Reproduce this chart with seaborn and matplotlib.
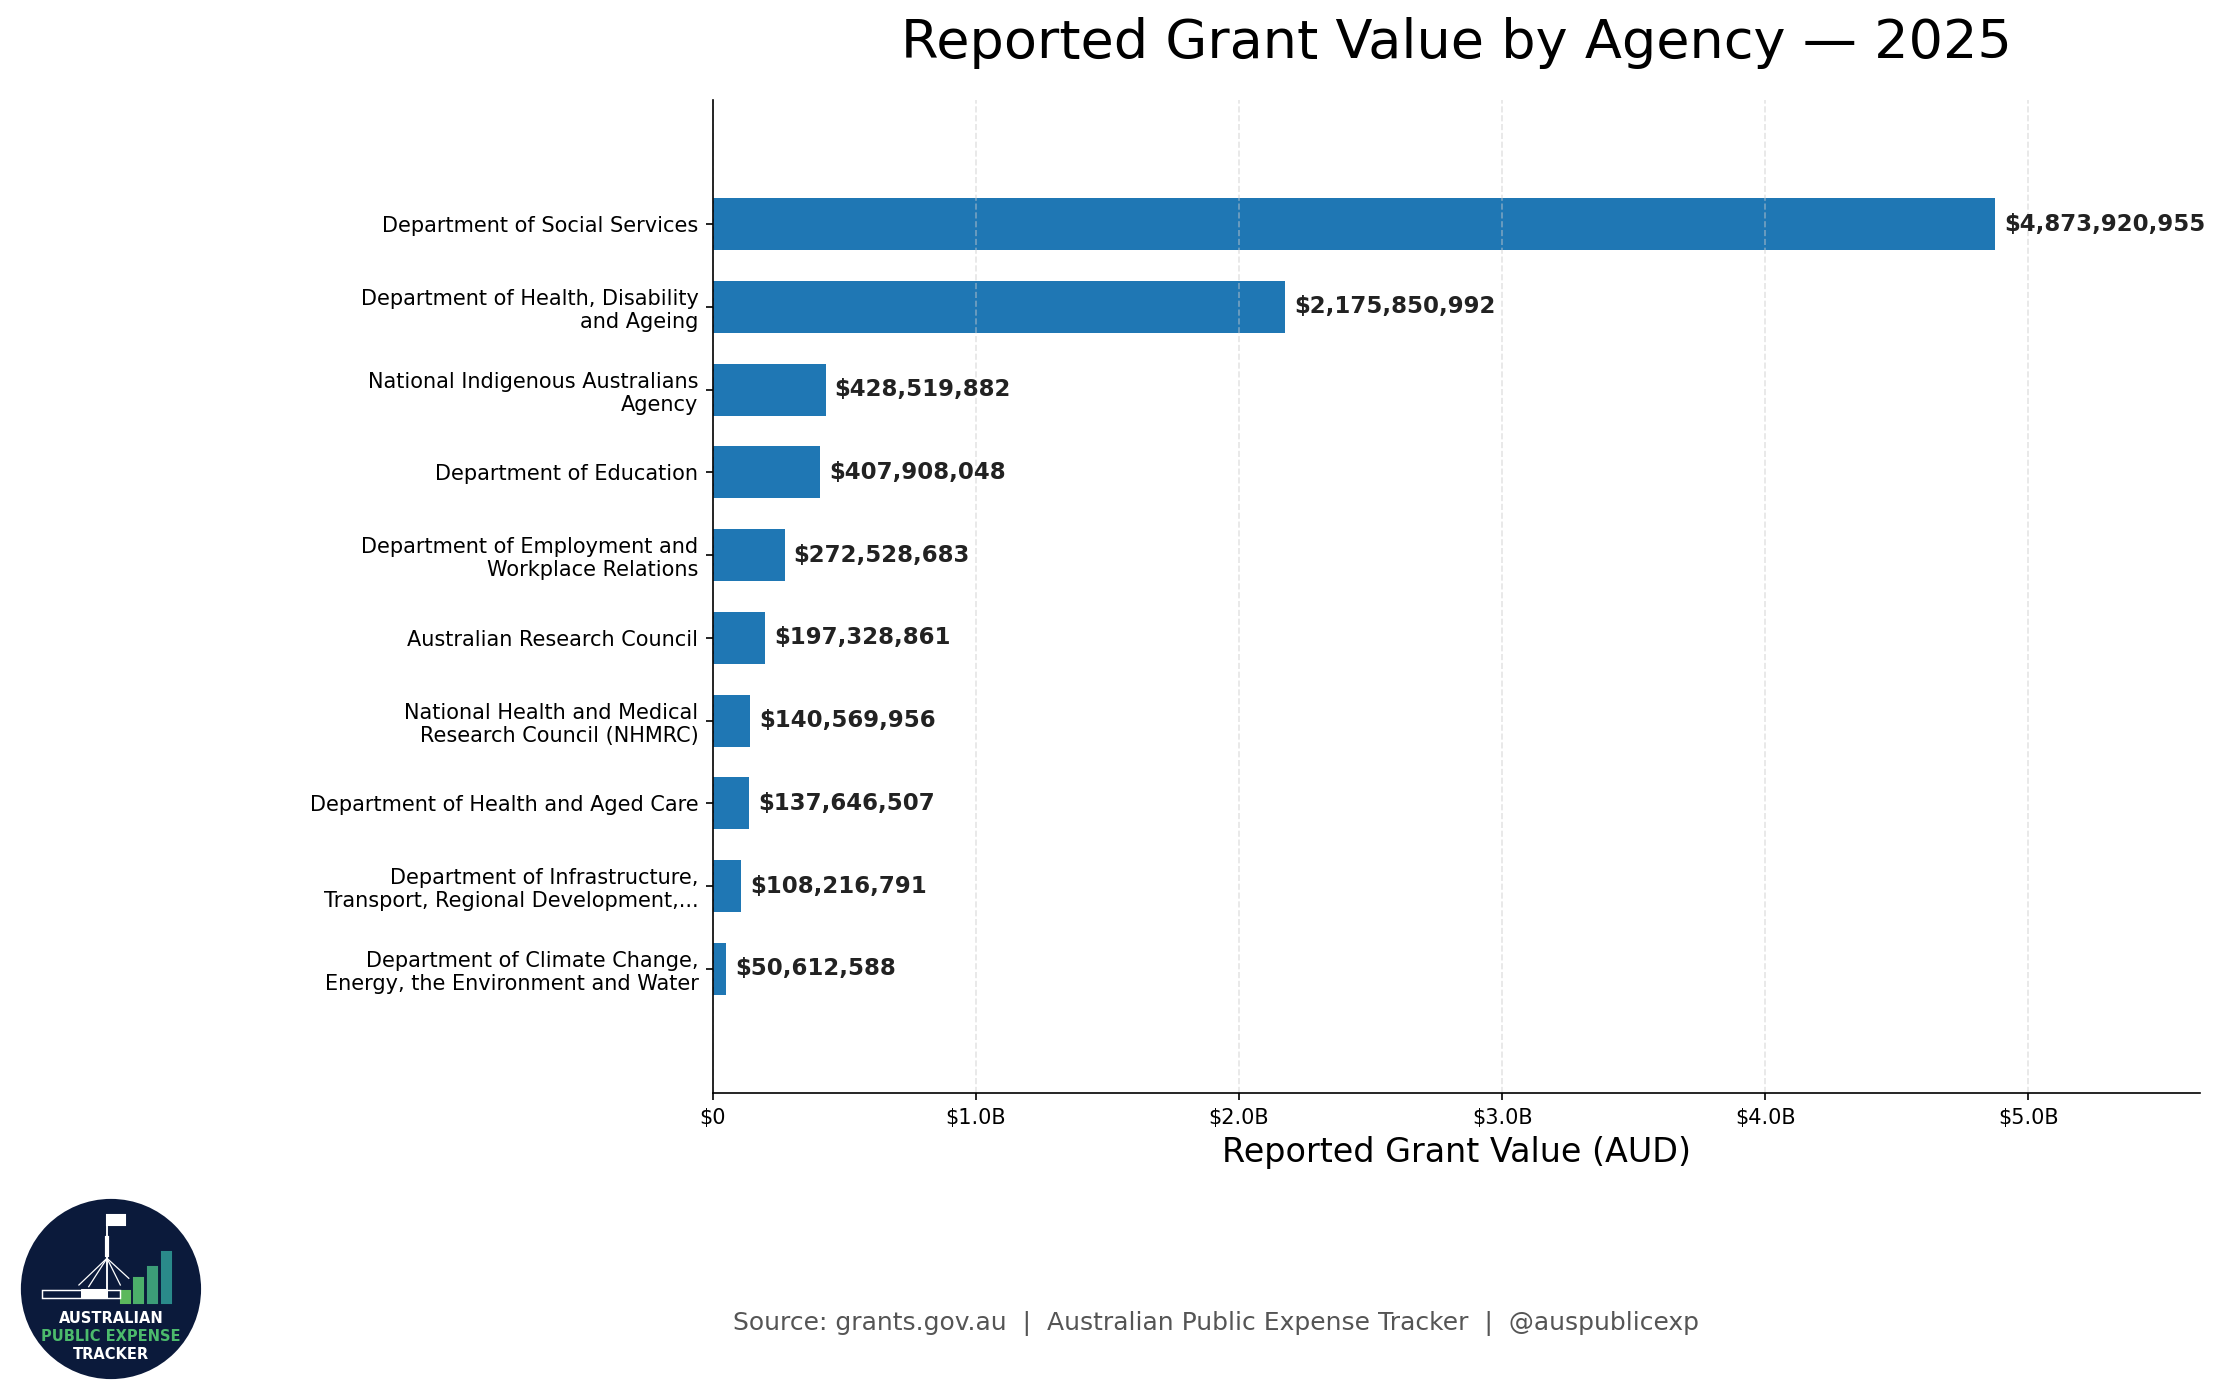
import matplotlib
matplotlib.use("Agg")
import matplotlib.pyplot as plt
import matplotlib.patches as mpatches
from matplotlib.ticker import FuncFormatter
import seaborn as sns

# data
agencies = [
    "Department of Social Services",
    "Department of Health, Disability\nand Ageing",
    "National Indigenous Australians\nAgency",
    "Department of Education",
    "Department of Employment and\nWorkplace Relations",
    "Australian Research Council",
    "National Health and Medical\nResearch Council (NHMRC)",
    "Department of Health and Aged Care",
    "Department of Infrastructure,\nTransport, Regional Development,...",
    "Department of Climate Change,\nEnergy, the Environment and Water",
]
grant_values = [
    4873920955,
    2175850992,
    428519882,
    407908048,
    272528683,
    197328861,
    140569956,
    137646507,
    108216791,
    50612588,
]
x_ticks = [0, 1e9, 2e9, 3e9, 4e9, 5e9]

BAR_COLOR = "#1f77b4"


def money_fmt(x, pos):
    if x == 0:
        return "$0"
    return f"${x / 1e9:.1f}B"


def draw_logo(fig):
    lax = fig.add_axes([0.00586, 0.00858, 0.0883, 0.1401])
    lax.set_xlim(-1.1, 1.1)
    lax.set_ylim(-1.1, 1.1)
    lax.set_aspect("equal")
    lax.axis("off")
    lax.add_patch(mpatches.Circle((0, 0), 1.0, color="#0b1a3b"))

    # rising bars
    bar_x = [0.116, 0.262, 0.412, 0.573]
    bar_top = [-0.02, 0.12, 0.25, 0.41]
    bar_c = ["#5cb85c", "#4caf6a", "#3c9c78", "#2a8a8a"]
    for bx, bt, bc in zip(bar_x, bar_top, bar_c):
        lax.add_patch(mpatches.Rectangle((bx, -0.154), 0.1, bt + 0.154, color=bc))

    # parliament house outline
    lax.add_patch(mpatches.Rectangle((-0.775, -0.105), 0.88, 0.09,
                                     facecolor="none", edgecolor="white", lw=0.7))
    lax.add_patch(mpatches.Rectangle((-0.34, -0.105), 0.30, 0.11,
                                     facecolor="white", edgecolor="white", lw=0.5))
    lax.plot([-0.045, -0.045], [-0.01, 0.83], color="white", lw=0.9)
    lax.plot([-0.045, -0.045], [0.38, 0.57], color="white", lw=2.0)
    for lx, ly in [(-0.36, 0.045), (-0.25, 0.026), (0.105, 0.045), (0.2, 0.12)]:
        lax.plot([-0.045, lx], [0.345, ly], color="white", lw=0.6)
    lax.add_patch(mpatches.Rectangle((-0.04, 0.72), 0.2, 0.11,
                                     facecolor="white", edgecolor="white"))

    lax.text(0, -0.33, "AUSTRALIAN", color="white", fontsize=7,
             fontweight="bold", ha="center", va="center")
    lax.text(0, -0.535, "PUBLIC EXPENSE", color="#4cbb6c", fontsize=7,
             fontweight="bold", ha="center", va="center")
    lax.text(0, -0.73, "TRACKER", color="white", fontsize=7,
             fontweight="bold", ha="center", va="center")


fig = plt.figure(figsize=(2219 / 150, 1399 / 150), dpi=150)
ax = fig.add_axes([0.3213, 0.2187, 0.6702, 0.7098])

sns.barplot(x=grant_values, y=agencies, orient="h", color=BAR_COLOR,
            saturation=1, width=0.63, ax=ax)

vmax = max(grant_values)
for i, v in enumerate(grant_values):
    ax.text(v + vmax * 0.007, i, f"${v:,.0f}", va="center", ha="left",
            fontsize=11, fontweight="bold", color="#222222")

ax.set_xlim(0, vmax * 1.16)
ax.set_ylim(len(agencies) - 1 + 1.5, -1.5)
ax.set_xticks(x_ticks)
ax.xaxis.set_major_formatter(FuncFormatter(money_fmt))
ax.tick_params(axis="both", labelsize=10)
ax.set_axisbelow("line")
ax.xaxis.grid(True, linestyle="--", color="#cccccc", alpha=0.5)
for side in ["top", "right"]:
    ax.spines[side].set_visible(False)

ax.set_xlabel("Reported Grant Value (AUD)", fontsize=16)
ax.set_ylabel("")
ax.set_title("Reported Grant Value by Agency \u2014 2025", fontsize=26, pad=20)

fig.text(0.548, 0.054,
         "Source: grants.gov.au  |  Australian Public Expense Tracker  |  @auspublicexp",
         ha="center", va="center", fontsize=12, color="#555555")

draw_logo(fig)

fig.savefig("out.png", dpi=150)
